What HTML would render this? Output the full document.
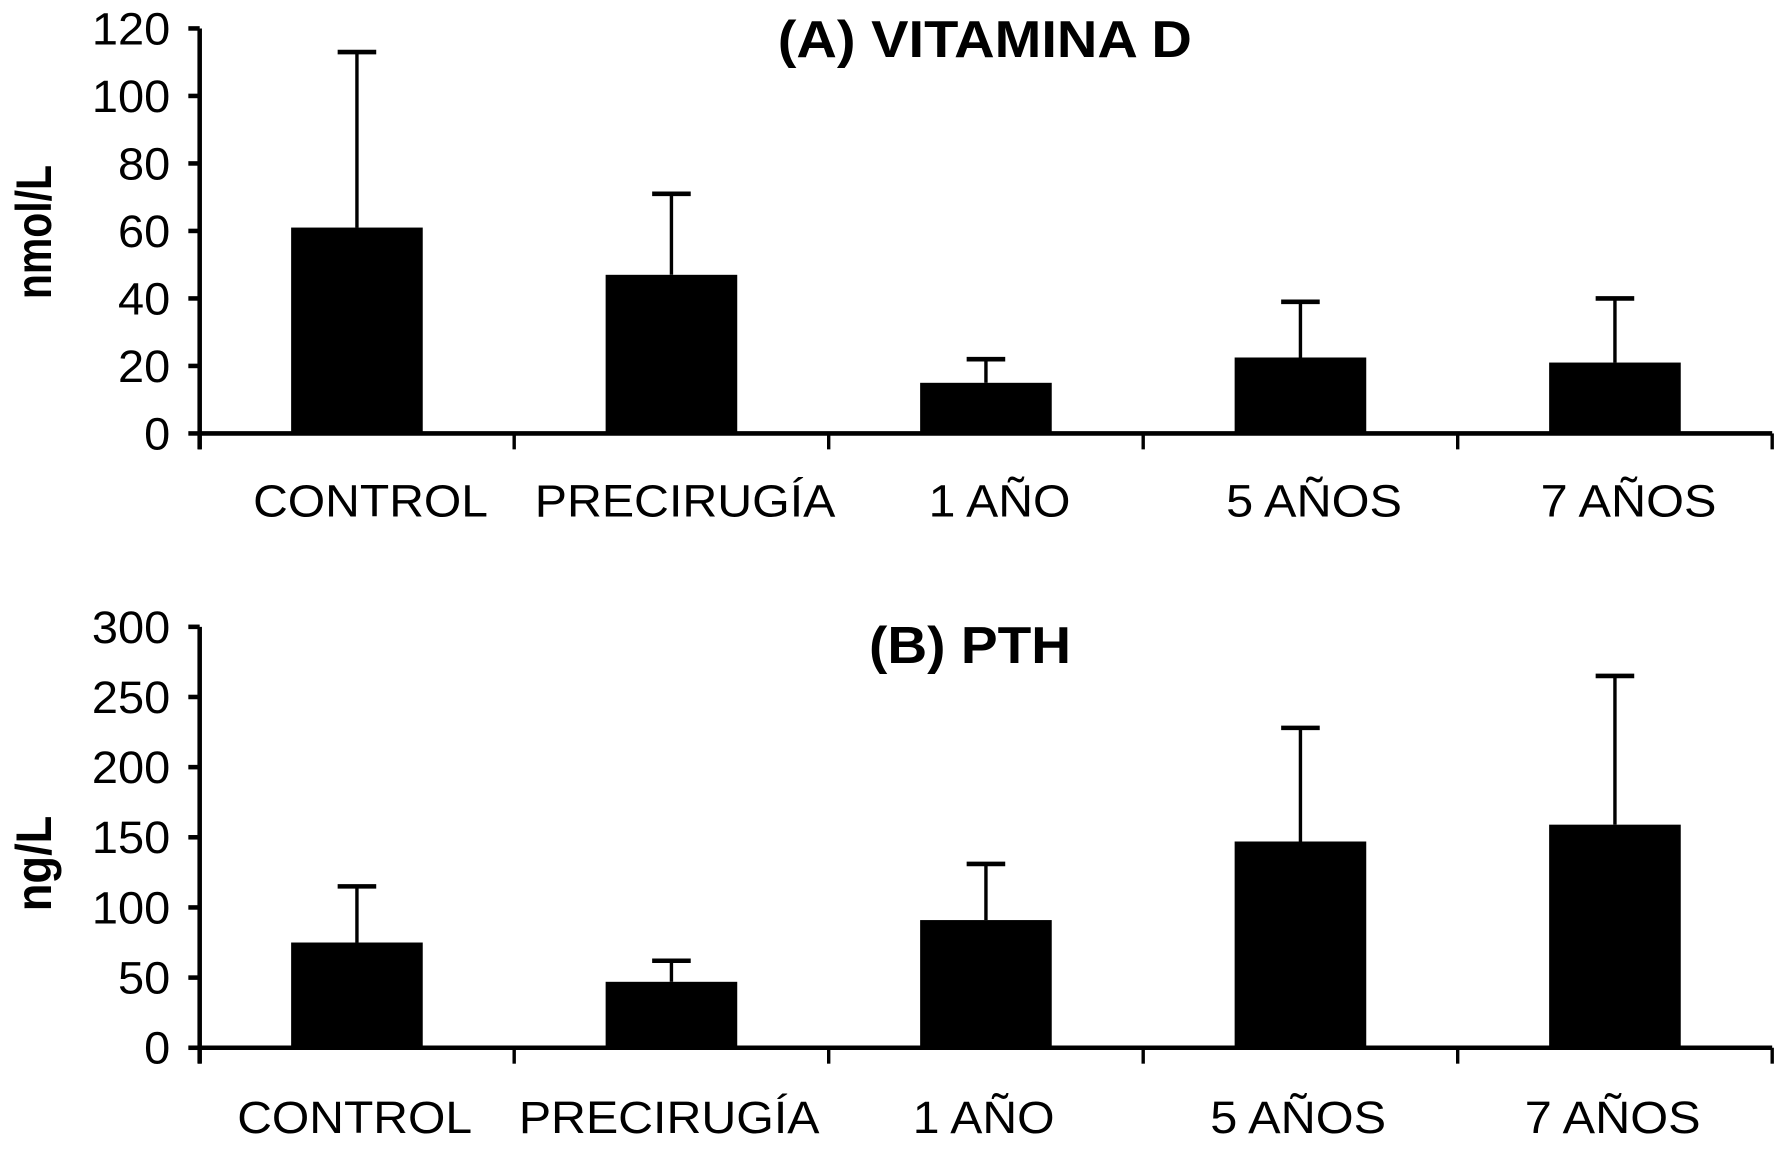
<!DOCTYPE html>
<html><head><meta charset="utf-8"><style>
html,body{margin:0;padding:0;background:#fff;}
svg{display:block;}
text{font-family:"Liberation Sans",sans-serif;fill:#000;}
</style></head><body>
<svg id="fig" width="1779" height="1149" viewBox="0 0 1568 1010" preserveAspectRatio="none" xmlns="http://www.w3.org/2000/svg"></svg>
<script>
const categories = ["CONTROL","PRECIRUGÍA","1 AÑO","5 AÑOS","7 AÑOS"];
const vitDMeans = [61, 47, 15, 22.5, 21];
const vitDUpper = [113, 71, 22, 39, 40];
const vitDTicks = [0,20,40,60,80,100,120];
const pthMeans = [75, 47, 91, 147, 159];
const pthUpper = [115, 62, 131, 228, 265];
const pthTicks = [0,50,100,150,200,250,300];

const NS="http://www.w3.org/2000/svg";
const svg=document.getElementById('fig');
function mk(tag,attrs,parent){const e=document.createElementNS(NS,tag);for(const k in attrs)e.setAttribute(k,attrs[k]);(parent||svg).appendChild(e);return e;}
const labelW={"CONTROL":207,"PRECIRUGÍA":265,"1 AÑO":125,"5 AÑOS":155,"7 AÑOS":155};

function drawPanel(cfg){
  const g=mk('g',{});
  
  
  const x0=176,x1=1562,yTop=cfg.yTop,yBot=cfg.yBot,max=cfg.ticks[cfg.ticks.length-1];
  const y=v=>yBot-(v/max)*(yBot-yTop);
  const band=(x1-x0)/categories.length;
  const xc=i=>x0+band*(i+0.5);
  const ya=mk('line',{x1:x0,y1:yTop,x2:x0,y2:yBot+14,stroke:'#000','stroke-width':4},g);
  
  
  cfg.ticks.forEach(t=>{
    const tk=mk('line',{x1:x0-10,y1:y(t),x2:x0,y2:y(t),stroke:'#000','stroke-width':4},g);
    
    
    const s=String(t);
    const tl=mk('text',{x:150,y:y(t)+14,'text-anchor':'end','font-size':40,textLength:s.length*23,lengthAdjust:'spacingAndGlyphs'},g);
    tl.textContent=s;
    
    
  });
  cfg.means.forEach((m,i)=>{
    const c=xc(i);
    const eb=mk('line',{x1:c,y1:y(m),x2:c,y2:y(cfg.upper[i]),stroke:'#000','stroke-width':3},g);
    
    
    const cap=mk('line',{x1:c-17,y1:y(cfg.upper[i]),x2:c+17,y2:y(cfg.upper[i]),stroke:'#000','stroke-width':4},g);
    
    
    const b=mk('rect',{x:c-58,y:y(m),width:116,height:yBot-y(m),fill:'#000'},g);
    
    
    const lbl=mk('text',{x:c+cfg.labelDx,y:cfg.labelY,'text-anchor':'middle','font-size':40,textLength:labelW[categories[i]],lengthAdjust:'spacingAndGlyphs'},g);
    lbl.textContent=categories[i];
    
    
  });
  const xa=mk('line',{x1:x0,y1:yBot,x2:x1,y2:yBot,stroke:'#000','stroke-width':4},g);
  
  
  for(let i=0;i<=categories.length;i++){
    const xt=mk('line',{x1:x0+band*i,y1:yBot,x2:x0+band*i,y2:yBot+14,stroke:'#000','stroke-width':3},g);
    
    
  }
  const ti=mk('text',{x:cfg.titleX,y:cfg.titleY,'text-anchor':'middle','font-size':46,'font-weight':'bold',textLength:cfg.titleW,lengthAdjust:'spacingAndGlyphs'},g);
  ti.textContent=cfg.title;
  
  
  const yl=mk('text',{x:0,y:0,'text-anchor':'middle','font-size':44,'font-weight':'bold',textLength:cfg.yTitleW,lengthAdjust:'spacingAndGlyphs',transform:`translate(45,${cfg.yTitleC}) rotate(-90)`},g);
  yl.textContent=cfg.yTitle;
  
  
}
drawPanel({name:'panel-vitamin-d',yTop:25,yBot:381,ticks:vitDTicks,means:vitDMeans,upper:vitDUpper,labelY:454,labelDx:12,title:'(A) VITAMINA D',titleW:365,titleX:868,titleY:50,yTitle:'nmol/L',yTitleW:118,yTitleC:204});
drawPanel({name:'panel-pth',yTop:551,yBot:921,ticks:pthTicks,means:pthMeans,upper:pthUpper,labelY:996,labelDx:-2,title:'(B) PTH',titleW:178,titleX:855,titleY:583,yTitle:'ng/L',yTitleW:84,yTitleC:759});
</script>
</body></html>
